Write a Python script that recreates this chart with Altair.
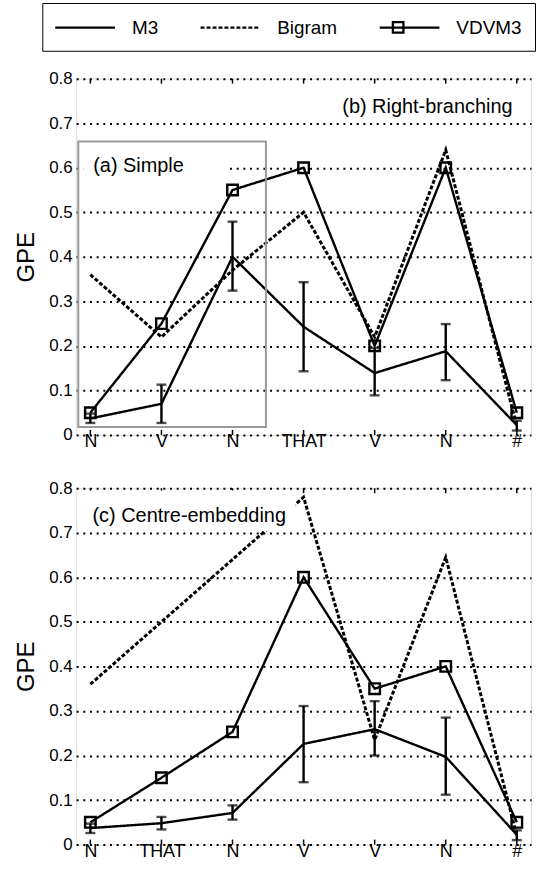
import altair as alt
import pandas as pd

FONT = "Liberation Sans"

SERIES = ["M3", "Bigram", "VDVM3"]
POSITIONS = [1, 2, 3, 4, 5, 6, 7]
Y_TICKS = [0, 0.1, 0.2, 0.3, 0.4, 0.5, 0.6, 0.7, 0.8]

# panel (a)/(b): right-branching
TOP_CATS = ["N", "V", "N", "THAT", "V", "N", "#"]
TOP_M3 = [0.037, 0.070, 0.400, 0.243, 0.139, 0.188, 0.022]
TOP_M3_LO = [0.027, 0.027, 0.324, 0.143, 0.089, 0.123, 0.010]
TOP_M3_HI = [0.048, 0.113, 0.479, 0.343, 0.195, 0.249, 0.032]
TOP_BIGRAM = [0.36, 0.22, 0.37, 0.50, 0.22, 0.64, 0.02]
TOP_VDVM3 = [0.05, 0.25, 0.55, 0.60, 0.20, 0.60, 0.05]

# panel (c): centre-embedding
BOT_CATS = ["N", "THAT", "N", "V", "V", "N", "#"]
BOT_M3 = [0.037, 0.048, 0.071, 0.226, 0.259, 0.197, 0.022]
BOT_M3_LO = [0.026, 0.034, 0.056, 0.140, 0.200, 0.112, 0.010]
BOT_M3_HI = [0.047, 0.062, 0.088, 0.311, 0.322, 0.285, 0.032]
BOT_BIGRAM = [0.36, 0.50, 0.64, 0.78, 0.235, 0.645, 0.02]
BOT_VDVM3 = [0.05, 0.15, 0.253, 0.60, 0.35, 0.40, 0.05]

NOTE_SIMPLE = "(a) Simple"
NOTE_RIGHT = "(b) Right-branching"
NOTE_CENTRE = "(c) Centre-embedding"

# annotation placement (data coordinates)
SIMPLE_XY = (1.04, 0.603)
RIGHT_XY = (6.94, 0.737)
CENTRE_XY = (1.03, 0.737)
SIMPLE_BG = (0.90, 2.92, 0.578, 0.628)
CENTRE_BG = (0.93, 3.89, 0.704, 0.795)
SIMPLE_FRAME = (0.83, 3.47, 0.018, 0.659)

SYMBOL_SIZE = 400
SQUARE_PATH = "M-0.53,-0.53H0.53V0.53H-0.53Z"
LEGEND_LINE = "M-3,0H3"

X_SCALE = alt.Scale(domain=[0.8, 7.2], nice=False, zero=False)
Y_SCALE = alt.Scale(domain=[0, 0.8], nice=False, zero=False)


def x_axis(cats):
    arr = "[" + ",".join("'" + c + "'" for c in cats) + "]"
    return alt.Axis(values=POSITIONS, labelExpr=arr + "[datum.value - 1]", title=None,
                    grid=False, ticks=False, domain=False, labelFont=FONT,
                    labelFontSize=18, labelColor="black", labelPadding=-2)


Y_AXIS = alt.Axis(values=Y_TICKS, format=".1~f", title="GPE", titleFont=FONT,
                  titleFontSize=24, titleFontWeight="normal", titleColor="black",
                  titlePadding=10, labelFont=FONT, labelFontSize=17, labelColor="black",
                  labelPadding=4, ticks=False, domain=False, grid=True,
                  gridColor="black", gridDash=[2, 4.7], gridWidth=2, gridOpacity=1)

# line legend (all three series)
LEGEND_LINES = alt.Legend(
    title=None, orient="none", legendX=-34, legendY=-76, direction="horizontal",
    columns=3, symbolType=LEGEND_LINE, symbolSize=SYMBOL_SIZE, symbolStrokeWidth=2.3,
    symbolStrokeColor="black", symbolOffset=18.5, labelFont=FONT, labelFontSize=19,
    labelColor="black", labelOffset=35.5, columnPadding=37, padding=13,
    strokeColor="black",
)
# marker legend (square drawn over the VDVM3 line symbol)
LEGEND_MARKER = alt.Legend(
    title=None, orient="none", legendX=312, legendY=-63, direction="horizontal",
    symbolSize=SYMBOL_SIZE, symbolStrokeWidth=2.3, symbolStrokeColor="black",
    symbolFillColor="transparent", labelFontSize=19, labelExpr="''", padding=0,
)


def panel(cats, m3, lo, hi, bigram, vdvm3, notes, with_legend):
    xa = x_axis(cats)
    X = lambda f: alt.X(f, scale=X_SCALE, axis=xa)
    Y = lambda f: alt.Y(f, scale=Y_SCALE, axis=Y_AXIS)

    lines = pd.DataFrame({
        "pos": POSITIONS * 3,
        "series": [s for s in SERIES for _ in POSITIONS],
        "value": m3 + bigram + vdvm3,
    })
    err = pd.DataFrame({"pos": POSITIONS, "lo": lo, "hi": hi})
    edges = pd.DataFrame({"pos": POSITIONS, "bottom": [0.0] * 7, "top": [0.8] * 7})

    dash = alt.StrokeDash("series:N",
                          scale=alt.Scale(domain=SERIES, range=[[1, 0], [4, 2], [1, 0]]),
                          legend=LEGEND_LINES if with_legend else None)

    base = alt.Chart(lines)
    solid = base.transform_filter("datum.series != 'Bigram'").mark_line(
        color="black", strokeWidth=2.4).encode(x=X("pos:Q"), y=Y("value:Q"), strokeDash=dash)
    dashed = base.transform_filter("datum.series == 'Bigram'").mark_line(
        color="black", strokeWidth=3).encode(x=X("pos:Q"), y=Y("value:Q"), strokeDash=dash)

    ebase = alt.Chart(err)
    rules = ebase.mark_rule(color="black", strokeWidth=2.4).encode(
        x=X("pos:Q"), y=Y("lo:Q"), y2="hi:Q")
    caps_lo = ebase.mark_tick(color="black", orient="horizontal", size=10, thickness=2.4).encode(
        x=X("pos:Q"), y=Y("lo:Q"))
    caps_hi = ebase.mark_tick(color="black", orient="horizontal", size=10, thickness=2.4).encode(
        x=X("pos:Q"), y=Y("hi:Q"))

    squares = base.transform_filter("datum.series == 'VDVM3'").mark_point(
        filled=False, color="black", strokeWidth=2.4, size=SYMBOL_SIZE, opacity=1).encode(
        x=X("pos:Q"), y=Y("value:Q"),
        shape=alt.Shape("series:N", scale=alt.Scale(domain=["VDVM3"], range=[SQUARE_PATH]),
                        legend=LEGEND_MARKER if with_legend else None))

    # inward category ticks on the bottom and top frame
    tbase = alt.Chart(edges)
    ticks_b = tbase.mark_rule(color="black", strokeWidth=1.5, y2Offset=-5).encode(
        x=X("pos:Q"), y=Y("bottom:Q"), y2="bottom:Q")
    ticks_t = tbase.mark_rule(color="black", strokeWidth=1.5, y2Offset=5).encode(
        x=X("pos:Q"), y=Y("top:Q"), y2="top:Q")

    layers = [ticks_b, ticks_t, solid, dashed, rules, caps_lo, caps_hi, squares]

    for (text, (tx, ty), align, bg, frame) in notes:
        if bg is not None:
            bgdf = pd.DataFrame({"x0": [bg[0]], "x1": [bg[1]], "y0": [bg[2]], "y1": [bg[3]]})
            layers.append(alt.Chart(bgdf).mark_rect(fill="white").encode(
                x=X("x0:Q"), x2="x1:Q", y=Y("y0:Q"), y2="y1:Q"))
        tdf = pd.DataFrame({"x": [tx], "y": [ty], "t": [text]})
        layers.append(alt.Chart(tdf).mark_text(
            align=align, baseline="middle", font=FONT, fontSize=20, color="black").encode(
            x=X("x:Q"), y=Y("y:Q"), text="t:N"))
        if frame is not None:
            fdf = pd.DataFrame({"x0": [frame[0]], "x1": [frame[1]], "y0": [frame[2]], "y1": [frame[3]]})
            layers.append(alt.Chart(fdf).mark_rect(
                fill=None, stroke="#9a9a9a", strokeWidth=2).encode(
                x=X("x0:Q"), x2="x1:Q", y=Y("y0:Q"), y2="y1:Q"))

    return alt.layer(*layers).properties(width=457, height=358)


top = panel(TOP_CATS, TOP_M3, TOP_M3_LO, TOP_M3_HI, TOP_BIGRAM, TOP_VDVM3,
            [(NOTE_SIMPLE, SIMPLE_XY, "left", SIMPLE_BG, SIMPLE_FRAME),
             (NOTE_RIGHT, RIGHT_XY, "right", None, None)], True)
bottom = panel(BOT_CATS, BOT_M3, BOT_M3_LO, BOT_M3_HI, BOT_BIGRAM, BOT_VDVM3,
               [(NOTE_CENTRE, CENTRE_XY, "left", CENTRE_BG, None)], False)

chart = alt.vconcat(top, bottom, spacing=26.5).resolve_scale(
    strokeDash="independent", shape="independent").resolve_legend(
    strokeDash="independent", shape="independent").properties(
    padding={"left": 13.5, "top": 0, "right": 0, "bottom": 0}
).configure_view(stroke="black", strokeWidth=2).configure(background="white")

chart.save("out.html", embed_options={"renderer": "svg", "actions": False})
